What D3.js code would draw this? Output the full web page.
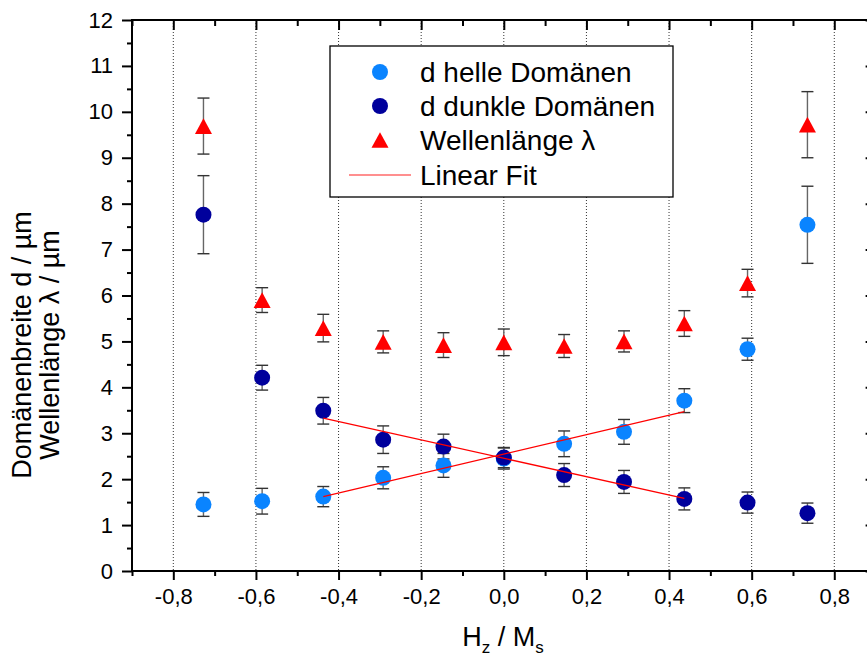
<!DOCTYPE html>
<html>
<head>
<meta charset="utf-8">
<script src="https://cdn.jsdelivr.net/npm/d3@7"></script>
<style>
  html, body { margin: 0; padding: 0; background: #fff; }
  svg { display: block; }
  text { font-family: "Liberation Sans", Arial, sans-serif; fill: #000; }
</style>
</head>
<body>
<svg id="chart" width="867" height="662"></svg>
<script>
// Field H_z / M_s of each measurement
const hz = [-0.727, -0.585, -0.437, -0.292, -0.146, 0.0, 0.146, 0.291, 0.437, 0.590, 0.735];

// Width of the bright domains (µm) and its uncertainty
const helle    = [1.45, 1.52, 1.62, 2.03, 2.30, 2.45, 2.77, 3.03, 3.71, 4.83, 7.54];
const helleErr = [0.26, 0.28, 0.22, 0.24, 0.26, 0.23, 0.28, 0.27, 0.26, 0.24, 0.84];

// Width of the dark domains (µm) and its uncertainty
const dunkle    = [7.76, 4.21, 3.49, 2.86, 2.71, 2.47, 2.09, 1.94, 1.57, 1.49, 1.26];
const dunkleErr = [0.85, 0.27, 0.29, 0.30, 0.27, 0.22, 0.25, 0.25, 0.24, 0.23, 0.22];

// Stripe wavelength λ (µm) and its uncertainty
const lambda    = [9.69, 5.90, 5.29, 4.99, 4.92, 4.98, 4.90, 5.00, 5.39, 6.27, 9.72];
const lambdaErr = [0.61, 0.27, 0.30, 0.24, 0.27, 0.29, 0.25, 0.23, 0.28, 0.30, 0.72];

// Linear fits over the central field range
const fitX      = [-0.437, 0.437];
const fitHelle  = [1.62, 3.47];
const fitDunkle = [3.33, 1.58];

// Axis ticks
const xMajor = [-0.8, -0.6, -0.4, -0.2, 0.0, 0.2, 0.4, 0.6, 0.8];
const xMinor = [-0.9, -0.7, -0.5, -0.3, -0.1, 0.1, 0.3, 0.5, 0.7, 0.9];
const yMajor = [0, 1, 2, 3, 4, 5, 6, 7, 8, 9, 10, 11, 12];
const yMinor = [0.5, 1.5, 2.5, 3.5, 4.5, 5.5, 6.5, 7.5, 8.5, 9.5, 10.5, 11.5];

const legendLabels = ["d helle Domänen", "d dunkle Domänen", "Wellenlänge λ", "Linear Fit"];

const cLight = "#0a84ff";
const cDark  = "#00009c";
const cRed   = "#ff0000";
const cErr   = "#333333";

const svg = d3.select("#chart");
const L = 132, R = 875.6, T = 20, B = 571;

const x = d3.scaleLinear().domain([-0.9, 0.9]).range([L, R]);
const y = d3.scaleLinear().domain([0, 12]).range([B, T]);

const fmtX = v => (Math.abs(v) < 1e-9 ? "0,0" : v.toFixed(1).replace(".", ","));
const markR = 8;
const triSize = 17;

// dotted vertical grid at the major x ticks
svg.append("g").selectAll("line").data(xMajor).join("line")
  .attr("x1", d => x(d)).attr("x2", d => x(d))
  .attr("y1", T).attr("y2", B)
  .attr("stroke", "#333").attr("stroke-width", 1)
  .attr("stroke-dasharray", "1,2");

// error bars
function errorBars(vals, errs) {
  const g = svg.append("g").attr("stroke", cErr).attr("stroke-width", 1.4).attr("fill", "none");
  hz.forEach((h, i) => {
    const cx = x(h), y1 = y(vals[i] + errs[i]), y0 = y(vals[i] - errs[i]);
    g.append("line").attr("x1", cx).attr("x2", cx).attr("y1", y1).attr("y2", y0).attr("stroke", "#666");
    g.append("line").attr("x1", cx - 6).attr("x2", cx + 6).attr("y1", y1).attr("y2", y1);
    g.append("line").attr("x1", cx - 6).attr("x2", cx + 6).attr("y1", y0).attr("y2", y0);
  });
}
errorBars(lambda, lambdaErr);
errorBars(helle, helleErr);
errorBars(dunkle, dunkleErr);

// markers
const triPath = (cx, cy, s) => {
  const h = s * 0.92;
  return `M${cx},${cy - h / 2}L${cx + s / 2},${cy + h / 2}L${cx - s / 2},${cy + h / 2}Z`;
};

svg.append("g").selectAll("path").data(hz).join("path")
  .attr("d", (d, i) => triPath(x(d), y(lambda[i]), triSize))
  .attr("fill", cRed);

svg.append("g").selectAll("circle").data(hz).join("circle")
  .attr("cx", d => x(d)).attr("cy", (d, i) => y(helle[i])).attr("r", markR)
  .attr("fill", cLight);

svg.append("g").selectAll("circle").data(hz).join("circle")
  .attr("cx", d => x(d)).attr("cy", (d, i) => y(dunkle[i])).attr("r", markR)
  .attr("fill", cDark);

// fit lines
const fitLine = d3.line().x(d => x(d[0])).y(d => y(d[1]));
[fitHelle, fitDunkle].forEach(f => {
  svg.append("path").attr("d", fitLine(fitX.map((v, i) => [v, f[i]])))
    .attr("stroke", cRed).attr("stroke-width", 1.3).attr("fill", "none");
});

// frame and axes
svg.append("rect").attr("x", L).attr("y", T).attr("width", R - L).attr("height", B - T)
  .attr("fill", "none").attr("stroke", "#000").attr("stroke-width", 2);

function axisLayer(axis, tx, ty) {
  const g = svg.append("g").attr("transform", `translate(${tx},${ty})`).call(axis);
  g.select(".domain").remove();
  g.selectAll(".tick line").attr("stroke-width", 2);
  return g;
}

const gB = axisLayer(d3.axisBottom(x).tickValues(xMajor).tickSize(9).tickPadding(8).tickFormat(fmtX), 0, B);
gB.selectAll("text").attr("font-size", 22).style("font-family", null);
axisLayer(d3.axisBottom(x).tickValues(xMinor).tickSize(5).tickFormat(""), 0, B);

axisLayer(d3.axisBottom(x).tickValues(xMajor).tickSize(10).tickFormat(""), 0, T);
axisLayer(d3.axisBottom(x).tickValues(xMinor).tickSize(6).tickFormat(""), 0, T);

const gL = axisLayer(d3.axisLeft(y).tickValues(yMajor).tickSize(10).tickPadding(9).tickFormat(d3.format("d")), L, 0);
gL.selectAll("text").attr("font-size", 22).style("font-family", null);
axisLayer(d3.axisLeft(y).tickValues(yMinor).tickSize(5).tickFormat(""), L, 0);

axisLayer(d3.axisRight(y).tickValues(yMajor).tickSize(10).tickFormat(""), R - 10, 0);

// d3.axis sets font-family on the group; let the page font apply instead
svg.selectAll("g").attr("font-family", null);

// axis titles
const xt = svg.append("text").attr("x", 503).attr("y", 646).attr("text-anchor", "middle")
  .attr("font-size", 27);
xt.append("tspan").text("H");
xt.append("tspan").attr("font-size", 17).attr("dy", 7).text("z");
xt.append("tspan").attr("dy", -7).text(" / M");
xt.append("tspan").attr("font-size", 17).attr("dy", 7).text("s");

const yt = svg.append("g").attr("transform", "translate(0,345) rotate(-90)");
yt.append("text").attr("x", 0).attr("y", 31).attr("text-anchor", "middle").attr("font-size", 27)
  .text("Domänenbreite d / µm");
yt.append("text").attr("x", 0).attr("y", 59).attr("text-anchor", "middle").attr("font-size", 27)
  .text("Wellenlänge λ / µm");

// legend
const lg = svg.append("g");
lg.append("rect").attr("x", 330).attr("y", 46).attr("width", 343).attr("height", 151)
  .attr("fill", "#fff").attr("stroke", "#000").attr("stroke-width", 1.3);
const rowY = [72, 106, 140, 175];
lg.append("circle").attr("cx", 380).attr("cy", rowY[0]).attr("r", markR).attr("fill", cLight);
lg.append("circle").attr("cx", 380).attr("cy", rowY[1]).attr("r", markR).attr("fill", cDark);
lg.append("path").attr("d", triPath(380, rowY[2], triSize)).attr("fill", cRed);
lg.append("line").attr("x1", 349).attr("x2", 411).attr("y1", rowY[3]).attr("y2", rowY[3])
  .attr("stroke", "#ff6a6a").attr("stroke-width", 1.4);
lg.selectAll("text.lab").data(legendLabels).join("text").attr("class", "lab")
  .attr("x", 420).attr("y", (d, i) => rowY[i] + 10).attr("font-size", 28)
  .text(d => d);
</script>
</body>
</html>
